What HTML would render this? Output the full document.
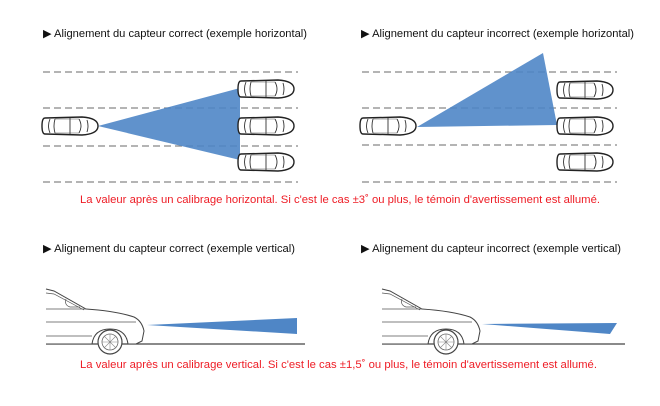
<!DOCTYPE html>
<html><head><meta charset="utf-8"><style>
html,body{margin:0;padding:0;background:#fff;width:660px;height:406px;overflow:hidden}
svg{display:block}
text{font-family:"Liberation Sans",Arial,sans-serif}
</style></head><body>
<svg width="660" height="406" viewBox="0 0 660 406" xmlns="http://www.w3.org/2000/svg">
<defs>
<g id="car">
<path d="M3,-8 Q0,-8 0,0 Q0,8 3,8 L40,9 Q56,8 56,0 Q56,-8 40,-9 Z" fill="#fff" stroke="#222" stroke-width="1.4"/>
<path d="M8,-7 Q5,0 8,7 M13,-7 Q11,0 13,7 M28,-8 L28,8 M37,-7 Q41,0 37,7 M45,-6 Q47,0 45,6" fill="none" stroke="#333" stroke-width="0.9"/>
<path d="M13,-7 L37,-7 M13,7 L37,7" fill="none" stroke="#555" stroke-width="0.6"/>
</g>
<g id="side">
<path d="M0,0 L8,2 L40,20 Q70,22 88,28 Q96,32 98,42 L96,52 L90,55 L82,55 Q80,40 64,40 Q48,40 46,55 L0,55" fill="#fff" stroke="#444" stroke-width="1"/>
<path d="M0,4 L8,5 L38,21 M0,20 L40,20 M0,33 L90,33 M0,47 L46,47 M20,10 Q18,16 24,18 L34,18" fill="none" stroke="#555" stroke-width="0.7"/>
<circle cx="64" cy="53" r="12" fill="#fff" stroke="#444" stroke-width="1.2"/>
<circle cx="64" cy="53" r="8" fill="none" stroke="#666" stroke-width="0.8"/>
<path d="M64,45 L64,61 M56,53 L72,53 M58,47 L70,59 M70,47 L58,59" stroke="#888" stroke-width="0.6"/>
</g>
</defs>
<g font-size="11" fill="#111">
<text x="43" y="37" textLength="264" lengthAdjust="spacingAndGlyphs">▶ Alignement du capteur correct (exemple horizontal)</text>
<text x="361" y="37" textLength="273" lengthAdjust="spacingAndGlyphs">▶ Alignement du capteur incorrect (exemple horizontal)</text>
<text x="43" y="252" textLength="252" lengthAdjust="spacingAndGlyphs">▶ Alignement du capteur correct (exemple vertical)</text>
<text x="361" y="252" textLength="260" lengthAdjust="spacingAndGlyphs">▶ Alignement du capteur incorrect (exemple vertical)</text>
</g>
<g font-size="11" fill="#ee1c25">
<text x="80" y="203" textLength="520" lengthAdjust="spacingAndGlyphs">La valeur après un calibrage horizontal. Si c'est le cas ±3˚ ou plus, le témoin d'avertissement est allumé.</text>
<text x="80" y="368" textLength="517" lengthAdjust="spacingAndGlyphs">La valeur après un calibrage vertical. Si c'est le cas ±1,5˚ ou plus, le témoin d'avertissement est allumé.</text>
</g>
<g stroke="#888" stroke-width="1.2" stroke-dasharray="7,4">
<path d="M43,72 H298 M43,108 H298 M43,146 H298 M43,182 H298"/>
<path d="M362,72 H617 M362,108 H617 M362,145 H617 M362,182 H617"/>
</g>
<polygon points="98,126 240,88 240,160" fill="#4f86c6" opacity="0.9"/>
<polygon points="417,127 543,53 557,125" fill="#4f86c6" opacity="0.9"/>
<use href="#car" x="42" y="126"/>
<use href="#car" x="238" y="89"/>
<use href="#car" x="238" y="126"/>
<use href="#car" x="238" y="162"/>
<use href="#car" x="360" y="126"/>
<use href="#car" x="557" y="90"/>
<use href="#car" x="557" y="126"/>
<use href="#car" x="557" y="162"/>
<line x1="46" y1="344" x2="305" y2="344" stroke="#444" stroke-width="1.2"/>
<line x1="382" y1="344" x2="625" y2="344" stroke="#444" stroke-width="1.2"/>
<polygon points="147,325 297,318 297,334" fill="#4f86c6"/>
<polygon points="482,324 617,323 610,334" fill="#4f86c6"/>
<use href="#side" x="46" y="289"/>
<use href="#side" x="382" y="289"/>
</svg>
</body></html>
